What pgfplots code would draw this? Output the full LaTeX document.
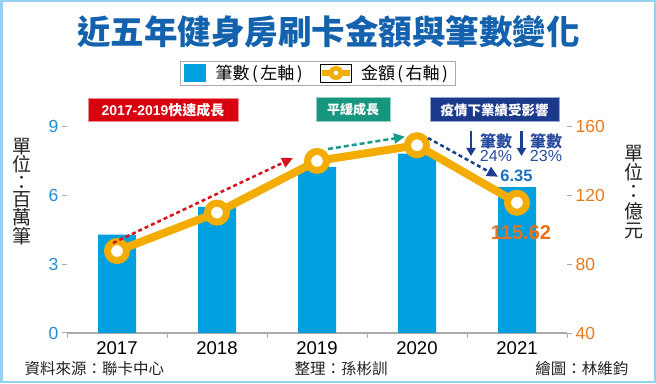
\documentclass[border=0pt]{standalone}
\usepackage{fontspec}
\setmainfont{Noto Sans CJK TC}
\newfontfamily\numfont{Liberation Sans}
\usepackage{pgfplots}
\pgfplotsset{compat=1.18}
\usetikzlibrary{arrows.meta}
\definecolor{barblue}{RGB}{0,160,224}
\definecolor{gold}{RGB}{243,173,0}
\definecolor{lefttick}{RGB}{30,143,213}
\definecolor{righttick}{RGB}{232,122,30}
\definecolor{titleblue}{RGB}{20,98,174}
\definecolor{boxred}{RGB}{217,0,15}
\definecolor{boxgreen}{RGB}{22,149,127}
\definecolor{boxnavy}{RGB}{27,58,140}
\definecolor{arrred}{RGB}{215,20,30}
\definecolor{arrteal}{RGB}{26,154,136}
\definecolor{arrnavy}{RGB}{27,63,142}
\definecolor{txtnavy}{RGB}{40,76,158}
\definecolor{blue635}{RGB}{30,111,192}
\definecolor{orange62}{RGB}{232,115,28}
\definecolor{axisgray}{RGB}{170,170,170}
\definecolor{framecol}{RGB}{150,210,240}
\definecolor{darktxt}{RGB}{34,34,34}
\newcommand\fs[1]{\fontsize{#1}{#1}\selectfont}
\newcommand\lp{\kern2.5pt(\kern2.5pt}
\newcommand\rp{\kern2.5pt)\kern2.5pt}
\begin{document}
\begin{tikzpicture}[x=1pt,y=1pt]
\useasboundingbox (0,0) rectangle (656,383);
\fill[white] (0,0) rectangle (656,383);
\begin{axis}[
  at={(67pt,50pt)}, anchor=south west, scale only axis,
  width=500pt, height=206.7pt,
  xmin=-0.5, xmax=4.5, ymin=0, ymax=9,
  axis x line*=bottom, axis y line*=left,
  x axis line style={draw=axisgray, line width=1.2pt},
  y axis line style={draw=none},
  xtick={-0.5,0.5,1.5,2.5,3.5,4.5},
  x tick label as interval,
  xticklabels={2017,2018,2019,2020,2021},
  ytick={0,3,6,9},
  tick align=outside, major tick length=5pt,
  tick style={axisgray, line width=1pt},
  /pgf/number format/assume math mode=true,
  yticklabel style={text=lefttick, font=\numfont\fs{17.5}},
  xticklabel style={text=black, font=\numfont\fs{18.5}},
  clip=false,
  legend style={at={(0.502,1.258)}, anchor=center, draw=axisgray, line width=0.8pt,
    font=\fs{17}, inner xsep=3pt, inner ysep=2pt,
    /tikz/every even column/.append style={column sep=12pt}},
  legend columns=2,
]
\addplot[ybar, bar width=38pt, fill=barblue, draw=none,
  legend image code/.code={\path (-2pt,-9pt) rectangle (20pt,9pt); \fill[barblue] (0pt,-7pt) rectangle (19pt,8pt);}]
  coordinates {(0,4.28) (1,5.49) (2,7.23) (3,7.81) (4,6.35)};
\addlegendentry{\kern8pt 筆數\lp 左軸\rp}
\addlegendimage{legend image code/.code={\path (-2pt,-9pt) rectangle (29pt,9pt); \draw[gold,line width=6pt] (0pt,0pt) -- (28pt,0pt); \draw[gold,line width=4.5pt,fill=white] (14pt,0pt) circle (5pt);}}
\addlegendentry{\kern6pt 金額\lp 右軸\rp}
\end{axis}
\begin{axis}[
  at={(67pt,50pt)}, anchor=south west, scale only axis,
  width=500pt, height=206.7pt,
  xmin=-0.5, xmax=4.5, ymin=40, ymax=160,
  axis y line*=right, axis x line=none,
  y axis line style={draw=none},
  ytick={40,80,120,160},
  tick align=outside, major tick length=5pt,
  tick style={axisgray, line width=1pt},
  /pgf/number format/assume math mode=true,
  yticklabel style={text=righttick, font=\numfont\fs{17.5}},
  clip=false,
]
\addplot[gold, line width=8pt, mark=*, mark size=9.5pt,
  mark options={draw=gold, fill=white, line width=7pt, solid}]
  coordinates {(0,87.6) (1,109.9) (2,139.9) (3,149.0) (4,115.62)};
\end{axis}
% trend arrows
\draw[arrred, line width=2.5pt, dash pattern=on 4pt off 3pt, -{Triangle[length=11pt,width=10pt]}] (113,140) -- (293,225);
\draw[arrteal, line width=2.5pt, dash pattern=on 5pt off 3pt, -{Triangle[length=11pt,width=10pt]}] (328,234) -- (405,246.3);
\draw[arrnavy, line width=2.5pt, dash pattern=on 4pt off 3pt, -{Triangle[length=11pt,width=10pt]}] (428,245) -- (498,206.3);
% title
\node[text=titleblue, font=\bfseries\fs{33.5}] at (328.5,351) {近五年健身房刷卡金額與筆數變化};
% phase boxes
\draw[fill=boxred, draw=boxred!45!white, line width=1pt] (88,261) rectangle (238,284);
\node[text=white, font=\bfseries\fs{14}] at (163,272.5) {{\numfont\bfseries 2017-2019}快速成長};
\draw[fill=boxgreen, draw=boxgreen!45!white, line width=1pt] (316,261) rectangle (390,285);
\node[text=white, font=\bfseries\fs{13}] at (353,273) {平緩成長};
\draw[fill=boxnavy, draw=boxnavy!45!white, line width=1pt] (430,261) rectangle (559,285);
\node[text=white, font=\bfseries\fs{13.5}] at (494.5,273) {疫情下業績受影響};
% decline notes
\draw[arrnavy, line width=2.5pt, -{Triangle[length=8pt,width=9pt]}] (471,252) -- (471,227);
\draw[arrnavy, line width=2.5pt, -{Triangle[length=8pt,width=9pt]}] (521.5,252) -- (521.5,227);
\node[text=txtnavy, font=\bfseries\fs{16}] at (496,241.3) {筆數};
\node[text=txtnavy, font=\numfont\fs{16}] at (496,227) {24\%};
\node[text=txtnavy, font=\bfseries\fs{16}] at (546,241.3) {筆數};
\node[text=txtnavy, font=\numfont\fs{16}] at (546,227) {23\%};
\node[text=blue635, font=\numfont\bfseries\fs{16.5}] at (516.5,207.5) {6.35};
\node[text=orange62, font=\numfont\bfseries\fs{20}] at (521,150.5) {115.62};
% unit labels
\node[text=darktxt, font=\fontsize{19}{17.2}\selectfont, align=center, inner sep=0pt] at (22,191.5) {單\\位\\：\\百\\萬\\筆};
\node[text=darktxt, font=\fontsize{19}{19.4}\selectfont, align=center, inner sep=0pt] at (634,191) {單\\位\\：\\億\\元};
% footer
\node[anchor=west, text=darktxt, font=\fs{15.5}] at (21,14.5) {資料來源：聯卡中心};
\node[anchor=west, text=darktxt, font=\fs{15.5}] at (291,14.5) {整理：孫彬訓};
\node[anchor=east, text=darktxt, font=\fs{15.5}] at (632,14.5) {繪圖：林維鈞};
\draw[framecol, line width=2.5pt] (1.25,1.25) rectangle (654.75,381.75);
\end{tikzpicture}
\end{document}
